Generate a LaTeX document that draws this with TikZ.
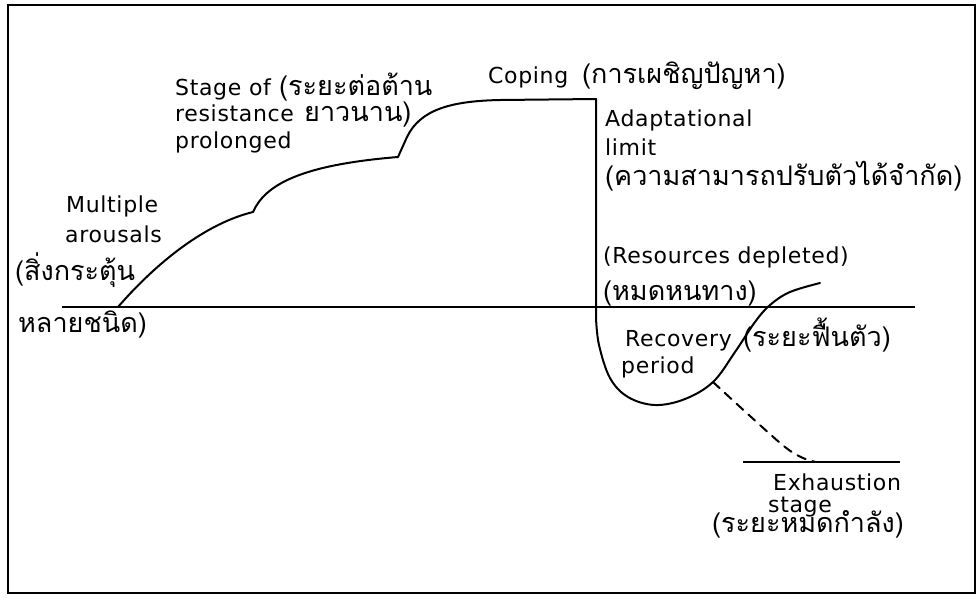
\documentclass[tikz,border=0pt]{standalone}
\usepackage{fontspec}
\newfontfamily\enfont{DejaVu Sans}[LetterSpace=3]
\newfontfamily\thaifont{Loma}[Script=Thai]
\newcommand\enF{\enfont\fontsize{22}{26}\selectfont}
\newcommand\thF{\thaifont\fontsize{27}{31}\selectfont}
\tikzset{
  en/.style={inner sep=0pt, anchor=base west, font=\enF},
  th/.style={inner sep=0pt, anchor=base west, font=\thF},
  curve/.style={line width=2pt, line join=round, line cap=round},
  axisline/.style={line width=1.4pt},
  frame/.style={line width=2pt}
}
\begin{document}
\begin{tikzpicture}[x=1pt, y=-1pt]
\useasboundingbox (0,0) rectangle (979,598);
\draw[frame] (8,5) rectangle (975,593);

% baseline and exhaustion line
\coordinate (bl0) at (62,307);
\coordinate (bl1) at (915,307);
\draw[axisline] (bl0) -- (bl1);
\coordinate (ex0) at (743,462);
\coordinate (ex1) at (900,462);
\draw[axisline] (ex0) -- (ex1);

% main curve
\coordinate (c0) at (118,307);
\coordinate (c1) at (253,212);
\coordinate (c2) at (398,157);
\coordinate (c3) at (407,137);
\coordinate (c4) at (500,100);
\coordinate (c5) at (596,99);
\coordinate (c6) at (596,318);
\draw[curve] (c0) .. controls (150,270) and (200,225) .. (c1)
  .. controls (265,185) and (300,165) .. (c2)
  -- (c3) .. controls (420,110) and (450,101) .. (c4)
  -- (c5) -- (c6);
\coordinate (dstart) at (713,382);
\draw[curve] plot[smooth, tension=0.6] coordinates {(596,318) (599,345) (610,378) (628,397) (655,405) (685,399) (713,382) (735,352) (755,322) (770,305) (790,292) (820,283)};
\draw[curve, dash pattern=on 9pt off 7pt] plot[smooth, tension=0.6] coordinates {(713,382) (750,416) (785,447) (803,458) (816,462)};

% labels
\node[en] (mult) at (66,212) {Multiple};
\node[en] (arou) at (65,242) {arousals};
\node[th] (th1) at (15,280) {(สิ่งกระตุ้น};
\node[th] (th2) at (18,332) {หลายชนิด)};

\node[en] (stage) at (175,95) {Stage of};
\node[th] (th3) at (279,95) {(ระยะต่อต้าน};
\node[en] (resis) at (175,121) {resistance};
\node[th] (th4) at (304,121) {ยาวนาน)};
\node[en] (prol) at (175,148) {prolonged};

\node[en] (coping) at (488,83) {Coping};
\node[th] (th5) at (582,83) {(การเผชิญปัญหา)};

\node[en] (adapt) at (605,126) {Adaptational};
\node[en] (limit) at (605,155) {limit};
\node[th] (th6) at (605,185) {(ความสามารถปรับตัวได้จำกัด)};

\node[en] (resou) at (603,263) {(Resources depleted)};
\node[th] (th7) at (603,300) {(หมดหนทาง)};

\node[en] (recov) at (625,346) {Recovery};
\node[en] (period) at (621,373) {period};
\node[th] (th8) at (743,346) {(ระยะฟื้นตัว)};

\node[en] (exh) at (773,490) {Exhaustion};
\node[en] (stg) at (768,512) {stage};
\node[th] (th9) at (712,532) {(ระยะหมดกำลัง)};
\end{tikzpicture}
\end{document}
